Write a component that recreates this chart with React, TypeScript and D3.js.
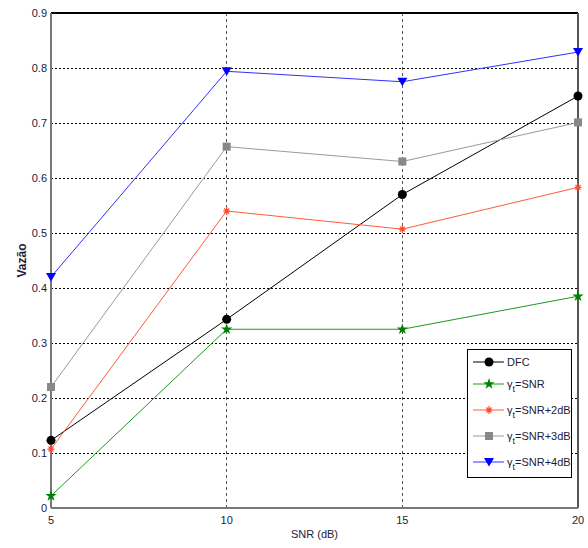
import React, { useEffect, useRef } from "react";
import * as d3 from "d3";

const snrValues = [5, 10, 15, 20];
const yTicks = [0, 0.1, 0.2, 0.3, 0.4, 0.5, 0.6, 0.7, 0.8, 0.9];

const seriesNames = ["DFC", "SNR", "SNR+2dB", "SNR+3dB", "SNR+4dB"];
const dfc = [0.123, 0.343, 0.57, 0.749];
const snr0 = [0.022, 0.325, 0.325, 0.385];
const snr2 = [0.107, 0.54, 0.507, 0.583];
const snr3 = [0.22, 0.657, 0.63, 0.701];
const snr4 = [0.42, 0.794, 0.775, 0.829];

const colors = ["#000000", "#008000", "#ff4a2a", "#888888", "#0000ff"];
const lineColors = ["#000000", "#1a9a1a", "#ff5a3a", "#9a9a9a", "#3030ff"];

const App = () => {
  const svgRef = useRef<SVGSVGElement>(null);

  useEffect(() => {
    const width = 588;
    const height = 548;
    const m = { left: 51, right: 10, top: 13, bottom: 40 };

    const svg = d3.select(svgRef.current);
    svg.selectAll("*").remove();
    svg.attr("width", width).attr("height", height);

    const x = d3.scaleLinear().domain([5, 20]).range([m.left, width - m.right]);
    const y = d3.scaleLinear().domain([0, 0.9]).range([height - m.bottom, m.top]);

    const g = svg.append("g");
    const font = "Arial, 'Liberation Sans', sans-serif";

    // grid
    g.selectAll(".hgrid")
      .data(yTicks.filter(t => t > 0 && t < 0.9))
      .join("line")
      .attr("x1", x(5)).attr("x2", x(20))
      .attr("y1", d => y(d)).attr("y2", d => y(d))
      .attr("stroke", "#000").attr("stroke-width", 1)
      .attr("stroke-dasharray", "2,2")
      .attr("shape-rendering", "crispEdges");
    g.selectAll(".vgrid")
      .data([10, 15])
      .join("line")
      .attr("x1", d => x(d)).attr("x2", d => x(d))
      .attr("y1", y(0)).attr("y2", y(0.9))
      .attr("stroke", "#555").attr("stroke-width", 1)
      .attr("stroke-dasharray", "3,3")
      .attr("shape-rendering", "crispEdges");

    // frame
    const frame = [
      { x1: x(5), y1: y(0.9), x2: x(20), y2: y(0.9), c: "#000" },
      { x1: x(20), y1: y(0.9), x2: x(20), y2: y(0), c: "#555" },
      { x1: x(5), y1: y(0), x2: x(20), y2: y(0), c: "#777" },
      { x1: x(5), y1: y(0.9), x2: x(5), y2: y(0), c: "#777" },
    ];
    g.selectAll(".frame")
      .data(frame)
      .join("line")
      .attr("x1", d => d.x1).attr("y1", d => d.y1)
      .attr("x2", d => d.x2).attr("y2", d => d.y2)
      .attr("stroke", d => d.c).attr("stroke-width", 1.5)
      .attr("shape-rendering", "crispEdges");

    // tick labels
    g.selectAll(".ylab")
      .data(yTicks)
      .join("text")
      .attr("x", x(5) - 4).attr("y", d => y(d) + 4)
      .attr("text-anchor", "end")
      .attr("font-family", font).attr("font-size", 11)
      .attr("fill", "#1c1c38")
      .text(d => (d === 0 ? "0" : d3.format(".1f")(d)));
    g.selectAll(".xlab")
      .data(snrValues)
      .join("text")
      .attr("x", d => x(d)).attr("y", y(0) + 16)
      .attr("text-anchor", "middle")
      .attr("font-family", font).attr("font-size", 11)
      .attr("fill", "#1c1c38")
      .text(d => d);

    g.append("text")
      .attr("x", (x(5) + x(20)) / 2).attr("y", height - 10)
      .attr("text-anchor", "middle")
      .attr("font-family", font).attr("font-size", 11)
      .attr("fill", "#1c1c38")
      .text("SNR (dB)");
    g.append("text")
      .attr("transform", `translate(26,${(y(0) + y(0.9)) / 2}) rotate(-90)`)
      .attr("text-anchor", "middle")
      .attr("font-family", font).attr("font-size", 12)
      .attr("font-weight", "bold")
      .attr("fill", "#1c1c38")
      .text("Vazão");

    const all = [dfc, snr0, snr2, snr3, snr4];
    const line = d3.line<number>().x((_, i) => x(snrValues[i])).y(d => y(d));

    const drawMarker = (sel: any, k: number, cx: number, cy: number) => {
      const c = colors[k];
      if (k === 0) {
        sel.append("circle").attr("cx", cx).attr("cy", cy).attr("r", 4.5).attr("fill", c);
      } else if (k === 1) {
        sel.append("path")
          .attr("d", d3.symbol().type(d3.symbolStar).size(40)())
          .attr("transform", `translate(${cx},${cy})`)
          .attr("fill", c);
      } else if (k === 2) {
        sel.append("path")
          .attr("d", `M${cx - 3.5},${cy}H${cx + 3.5}M${cx},${cy - 4}V${cy + 4}M${cx - 2.5},${cy - 2.5}L${cx + 2.5},${cy + 2.5}M${cx - 2.5},${cy + 2.5}L${cx + 2.5},${cy - 2.5}`)
          .attr("stroke", c).attr("stroke-width", 1.2).attr("fill", "none");
      } else if (k === 3) {
        sel.append("rect").attr("x", cx - 4).attr("y", cy - 4)
          .attr("width", 8).attr("height", 8).attr("fill", c);
      } else {
        sel.append("path")
          .attr("d", `M${cx - 5},${cy - 4}L${cx + 5},${cy - 4}L${cx},${cy + 4.5}Z`)
          .attr("fill", c);
      }
    };

    all.forEach((vals, k) => {
      g.append("path")
        .attr("d", line(vals))
        .attr("fill", "none")
        .attr("stroke", lineColors[k])
        .attr("stroke-width", 1);
    });
    all.forEach((vals, k) => {
      const mg = g.append("g");
      vals.forEach((v, i) => drawMarker(mg, k, x(snrValues[i]), y(v)));
    });

    // legend
    const lg = g.append("g");
    lg.append("rect")
      .attr("x", 467.5).attr("y", 349.5)
      .attr("width", 104).attr("height", 128)
      .attr("fill", "#fff").attr("stroke", "#000").attr("stroke-width", 1);
    const rows = [362, 384, 410, 436, 462];
    seriesNames.forEach((name, k) => {
      const ry = rows[k];
      lg.append("line")
        .attr("x1", 473).attr("x2", 504).attr("y1", ry).attr("y2", ry)
        .attr("stroke", lineColors[k]).attr("stroke-width", 1);
      drawMarker(lg, k, 489, ry);
      const t = lg.append("text")
        .attr("x", 507).attr("y", ry + 4)
        .attr("font-family", font).attr("font-size", 11)
        .attr("fill", "#1c1c38");
      if (k === 0) {
        t.text(name);
      } else {
        t.append("tspan").text("γ");
        t.append("tspan").attr("dy", 4).attr("font-size", 9).text("t");
        t.append("tspan").attr("dy", -4).text("=" + name);
      }
    });
  }, []);

  return (
    <svg ref={svgRef} style={{ position: "absolute", left: 0, top: 0, background: "#fff" }} />
  );
};

export default App;
